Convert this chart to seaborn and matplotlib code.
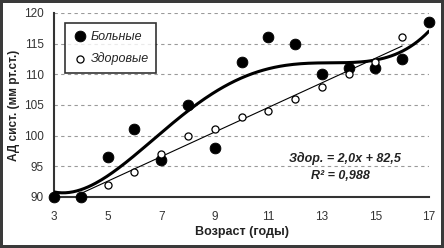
import numpy as np
import pandas as pd
import matplotlib
matplotlib.use("Agg")
import matplotlib.pyplot as plt
import seaborn as sns

# ages and systolic pressure
sick_age = [3, 4, 5, 6, 7, 8, 9, 10, 11, 12, 13, 14, 15, 16, 17]
sick_bp = [90, 90, 96.5, 101, 96, 105, 98, 112, 116, 115, 110, 111, 111, 112.5, 118.5]
healthy_age = [5, 6, 7, 8, 9, 10, 11, 12, 13, 14, 15, 16]
healthy_bp = [92, 94, 97, 100, 101, 103, 104, 106, 108, 110, 112, 116]

x_ticks = [3, 5, 7, 9, 11, 13, 15, 17]
y_ticks = [90, 95, 100, 105, 110, 115, 120]

sns.set_theme(style="white")
plt.rcParams['font.family'] = ['Liberation Sans', 'DejaVu Sans']

fig = plt.figure(figsize=(4.44, 2.48), dpi=100, edgecolor='#3a3a3a', linewidth=3)
ax = fig.add_axes([0.122, 0.206, 0.844, 0.742])

# trend lines
sick_fit = np.poly1d(np.polyfit(sick_age, sick_bp, 4))
xs = np.linspace(3, 17, 200)
sns.lineplot(x=xs, y=sick_fit(xs), color='black', lw=2.2, ax=ax, zorder=3)

k, b = np.polyfit(healthy_age, healthy_bp, 1)
xh = np.linspace(4, 16, 50)
sns.lineplot(x=xh, y=k * xh + b, color='black', lw=0.8, ax=ax, zorder=3)

sns.scatterplot(x=sick_age, y=sick_bp, color='black', s=60, edgecolor='black',
                marker='o', ax=ax, zorder=4, label='Больные', clip_on=False)
sns.scatterplot(x=healthy_age, y=healthy_bp, color='white', s=26, edgecolor='black',
                linewidth=0.9, marker='o', ax=ax, zorder=5, label='Здоровые', clip_on=False)

ax.set_xlim(3, 17)
ax.set_ylim(90, 120)
ax.set_xticks(x_ticks)
ax.set_yticks(y_ticks)
ax.yaxis.grid(True, color='#9a9a9a', linestyle=(0, (3, 3)), lw=0.8)
for s in ['top', 'right']:
    ax.spines[s].set_visible(False)
for s in ['left', 'bottom']:
    ax.spines[s].set_color('#333333')
    ax.spines[s].set_linewidth(1.5)
ax.tick_params(axis='both', labelsize=8.5, colors='#333333', length=3, width=1,
               direction='inout')
ax.tick_params(axis='x', pad=9)
ax.tick_params(axis='y', pad=6)

ax.set_xlabel('Возраст (годы)', fontsize=9, fontweight='bold', color='#222222')
ax.set_ylabel('АД сист. (мм рт.ст.)', fontsize=8.5, fontweight='bold', color='#222222')
ax.xaxis.set_label_coords(0.5, -0.16)
ax.yaxis.set_label_coords(-0.09, 0.5)

leg = ax.legend(loc='upper left', bbox_to_anchor=(0.03, 0.945), frameon=True, fancybox=False,
                prop={'style': 'italic', 'size': 9}, handletextpad=0.2, borderpad=0.6,
                labelspacing=0.8, handlelength=1.2, borderaxespad=0)
leg.get_frame().set_edgecolor('black')
leg.get_frame().set_linewidth(1.2)

ax.text(0.776, 0.207, 'Здор. = 2,0x + 82,5', transform=ax.transAxes, ha='center', va='center',
        fontsize=9, fontweight='bold', style='italic', color='#222222')
ax.text(0.763, 0.114, 'R² = 0,988', transform=ax.transAxes, ha='center', va='center',
        fontsize=9, fontweight='bold', style='italic', color='#222222')

fig.savefig('out.png', dpi=100, edgecolor=fig.get_edgecolor())
